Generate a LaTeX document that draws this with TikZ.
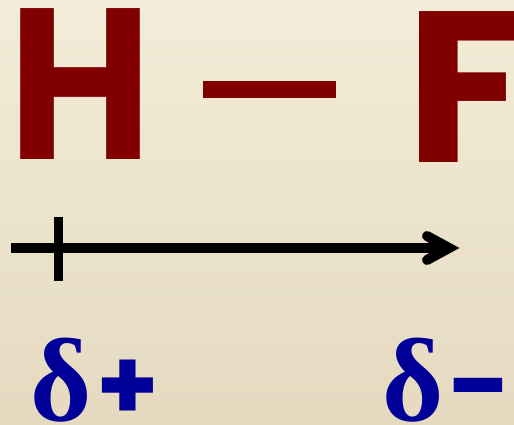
\documentclass[tikz,border=0pt]{standalone}
\usepackage{fontspec}
\newfontfamily\letterfont{Poppins}
\newfontfamily\deltafont{Liberation Serif}
\definecolor{bgtop}{RGB}{243,236,216}
\definecolor{bgbot}{RGB}{229,218,192}
\definecolor{hfred}{RGB}{128,0,0}
\definecolor{dblue}{RGB}{0,0,153}
\tikzset{
  letter/.style={inner sep=0pt, text=hfred, text height=152pt, text depth=0pt,
    font=\letterfont\bfseries\fontsize{215}{215}\selectfont},
  bondbar/.style={inner sep=0pt, fill=hfred, minimum width=133pt, minimum height=17pt},
  charge/.style={inner sep=0pt, text=dblue, text height=84pt, text depth=1pt},
  bond/.style={line width=10pt, black},
  crossbar/.style={line width=9pt, black},
  barb/.style={line width=10pt, black, line cap=round, line join=miter},
}
\begin{document}
\begin{tikzpicture}[x=1pt,y=-1pt]
\shade[top color=bgtop,bottom color=bgbot] (0,0) rectangle (514,425);
\useasboundingbox (0,0) rectangle (514,425);
% molecule
\node[letter, anchor=base west] (H) at (8,160) {\scalebox{0.915}[1]{H}};
\node[bondbar] (dash) at (269.5,89.5) {};
\node[letter, anchor=base west] (F) at (405,162) {\scalebox{1.05}[1]{F}};
% dipole arrow
\coordinate (start) at (11,248);
\coordinate (tip) at (449,248);
\coordinate (bartop) at (58.5,217);
\coordinate (barbot) at (58.5,281);
\coordinate (barbup) at (427,236);
\coordinate (barbdown) at (427,260);
\draw[bond] (start) -- (tip);
\draw[crossbar] (bartop) -- (barbot);
\draw[barb] (barbup) -- (tip) -- (barbdown);
% partial charges
\node[charge, anchor=base west] (plus) at (30,420)
  {{\deltafont\bfseries\fontsize{118}{118}\selectfont δ}\hspace{5pt}{\letterfont\bfseries\fontsize{100}{100}\selectfont +}};
\node[charge, anchor=base west] (minus) at (382,420)
  {{\deltafont\bfseries\fontsize{118}{118}\selectfont δ}\hspace{5pt}{\letterfont\bfseries\fontsize{100}{100}\selectfont\scalebox{1.1}[1]{-}}};
\end{tikzpicture}
\end{document}
